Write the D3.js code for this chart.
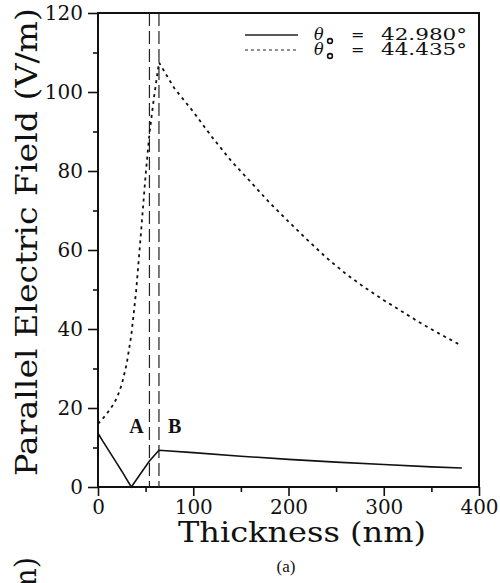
<!doctype html>
<html>
  <head>
    <script src="https://cdn.jsdelivr.net/npm/d3@7"></script>
    <style>
      body { margin: 0; background: #fff; }
      svg { display: block; }
      .tick text { font-family: "DejaVu Serif", serif; font-size: 20px; fill: #111; }
    </style>
  </head>
  <body>
    <script>
      // thickness (nm) / field (V/m)
      var thick_solid = [0, 5, 10, 15, 20, 25, 30, 35, 45, 54, 64, 100, 150, 200, 250, 300, 350, 382];
      var field_solid = [13.6, 11.6, 9.7, 7.8, 5.9, 4.0, 2.0, 0, 3.5, 6.6, 9.3, 8.7, 7.8, 7.0, 6.3, 5.7, 5.1, 4.8];

      var thick_dash = [0, 5, 10, 15, 20, 25, 30, 35, 40, 45, 50, 54, 59, 64, 80, 100, 120, 140, 160, 180, 200, 220, 240, 260, 280, 300, 320, 340, 360, 380];
      var field_dash = [16, 17.3, 18.8, 20.5, 22.6, 26, 31, 38.5, 49.5, 64, 79, 89.5, 99, 107.5, 101, 95, 88.5, 82.5, 77.3, 72, 67.2, 62.5, 58, 54, 50.5, 47.3, 44.3, 41.3, 38.6, 36];

      var marker_x = [54, 64];          // dashed vertical lines A, B
      var marker_names = ["A", "B"];
      var marker_label_x = [40.5, 80.5];
      var marker_label_y = 13.7;

      var x_ticks = [0, 100, 200, 300, 400];
      var x_minor = [50, 150, 250, 350];
      var y_ticks = [0, 20, 40, 60, 80, 100, 120];
      var y_minor = [10, 30, 50, 70, 90, 110];

      var legend_labels = ["42.980°", "44.435°"];

      var w_svg = 500, h_svg = 583;
      var plot_l = 98, plot_r = 479, plot_t = 13, plot_b = 487;

      var svg = d3.select("body").append("svg")
                  .attr("width", w_svg)
                  .attr("height", h_svg);

      var x = d3.scaleLinear().domain([0, 400]).range([plot_l, plot_r]);
      var y = d3.scaleLinear().domain([0, 120]).range([plot_b, plot_t]);

      // axes: major + minor ticks pointing outward
      svg.append("g").attr("transform", "translate(" + plot_l + ",0)")
         .call(d3.axisLeft(y).tickValues(y_ticks).tickSize(10).tickPadding(5).tickFormat(d3.format("d")))
         .call(function(g){ g.select(".domain").remove(); });
      svg.append("g").attr("transform", "translate(" + plot_l + ",0)")
         .call(d3.axisLeft(y).tickValues(y_minor).tickSize(5).tickFormat(""))
         .call(function(g){ g.select(".domain").remove(); });
      svg.append("g").attr("transform", "translate(0," + plot_b + ")")
         .call(d3.axisBottom(x).tickValues(x_ticks).tickSize(9).tickPadding(4).tickFormat(d3.format("d")))
         .call(function(g){ g.select(".domain").remove(); });
      svg.append("g").attr("transform", "translate(0," + plot_b + ")")
         .call(d3.axisBottom(x).tickValues(x_minor).tickSize(5).tickFormat(""))
         .call(function(g){ g.select(".domain").remove(); });
      svg.selectAll(".tick line").attr("stroke", "#111").attr("stroke-width", 1.6);

      // frame
      svg.append("rect")
         .attr("x", plot_l).attr("y", plot_t)
         .attr("width", plot_r - plot_l).attr("height", plot_b - plot_t)
         .attr("fill", "none").attr("stroke", "#111").attr("stroke-width", 2);

      // vertical dashed markers
      svg.selectAll("line.marker")
         .data(marker_x)
         .enter()
         .append("line")
         .attr("class", "marker")
         .attr("x1", function(d){ return x(d); })
         .attr("x2", function(d){ return x(d); })
         .attr("y1", y(120))
         .attr("y2", y(0))
         .attr("stroke", "#222")
         .attr("stroke-width", 1.2)
         .attr("stroke-dasharray", "13,5");

      svg.selectAll("text.marker")
         .data(marker_names)
         .enter()
         .append("text")
         .attr("class", "marker")
         .attr("x", function(d, i){ return x(marker_label_x[i]); })
         .attr("y", y(marker_label_y))
         .attr("text-anchor", "middle")
         .attr("font-family", "Liberation Serif, serif")
         .attr("font-weight", "bold")
         .attr("font-size", 20)
         .attr("fill", "#111")
         .text(function(d){ return d; });

      var line = d3.line()
                   .x(function(d){ return x(d[0]); })
                   .y(function(d){ return y(d[1]); });

      svg.append("path")
         .datum(d3.zip(thick_solid, field_solid))
         .attr("d", line)
         .attr("fill", "none")
         .attr("stroke", "#111")
         .attr("stroke-width", 1.6);

      svg.append("path")
         .datum(d3.zip(thick_dash, field_dash))
         .attr("d", line)
         .attr("fill", "none")
         .attr("stroke", "#111")
         .attr("stroke-width", 1.8)
         .attr("stroke-dasharray", "3,4");

      // legend
      var legend = svg.selectAll("g.legend")
                      .data(legend_labels)
                      .enter()
                      .append("g")
                      .attr("class", "legend")
                      .attr("transform", function(d, i){ return "translate(0," + (i * 15) + ")"; });
      legend.append("line")
            .attr("x1", 245).attr("x2", 298)
            .attr("y1", 35).attr("y2", 35)
            .attr("stroke", "#222")
            .attr("stroke-width", function(d, i){ return i ? 1 : 1.3; })
            .attr("stroke-dasharray", function(d, i){ return i ? "3,3" : null; });
      legend.append("text")
            .attr("x", 314).attr("y", 40)
            .attr("font-family", "DejaVu Serif, serif")
            .attr("font-style", "italic")
            .attr("font-size", 16)
            .attr("fill", "#111")
            .text("θ");
      legend.append("circle")
            .attr("cx", 330).attr("cy", 41)
            .attr("r", 2.4)
            .attr("fill", "none")
            .attr("stroke", "#111")
            .attr("stroke-width", 1.6);
      legend.append("text")
            .attr("x", 351).attr("y", 40)
            .attr("font-family", "DejaVu Serif, serif")
            .attr("font-size", 16)
            .attr("fill", "#111")
            .text("=");
      legend.append("text")
            .attr("x", 381).attr("y", 40)
            .attr("font-family", "DejaVu Serif, serif")
            .attr("font-size", 16)
            .attr("textLength", 86)
            .attr("lengthAdjust", "spacingAndGlyphs")
            .attr("fill", "#111")
            .text(function(d){ return d; });

      // axis titles
      svg.append("text")
         .attr("transform", "translate(37,242) rotate(-90)")
         .attr("text-anchor", "middle")
         .attr("font-family", "DejaVu Serif, serif")
         .attr("font-size", 29)
         .attr("textLength", 468)
         .attr("lengthAdjust", "spacingAndGlyphs")
         .attr("fill", "#111")
         .text("Parallel Electric Field (V/m)");

      svg.append("text")
         .attr("x", 302)
         .attr("y", 542)
         .attr("text-anchor", "middle")
         .attr("font-family", "DejaVu Serif, serif")
         .attr("font-size", 28)
         .attr("textLength", 248)
         .attr("lengthAdjust", "spacingAndGlyphs")
         .attr("fill", "#111")
         .text("Thickness (nm)");

      svg.append("text")
         .attr("x", 286)
         .attr("y", 572)
         .attr("text-anchor", "middle")
         .attr("font-family", "Liberation Serif, serif")
         .attr("font-size", 17)
         .attr("fill", "#111")
         .text("(a)");

      // clipped title of the panel below
      svg.append("text")
         .attr("transform", "translate(36,557) rotate(-90)")
         .attr("text-anchor", "end")
         .attr("font-family", "DejaVu Serif, serif")
         .attr("font-size", 29)
         .attr("fill", "#111")
         .text("(nm)");
    </script>
  </body>
</html>
